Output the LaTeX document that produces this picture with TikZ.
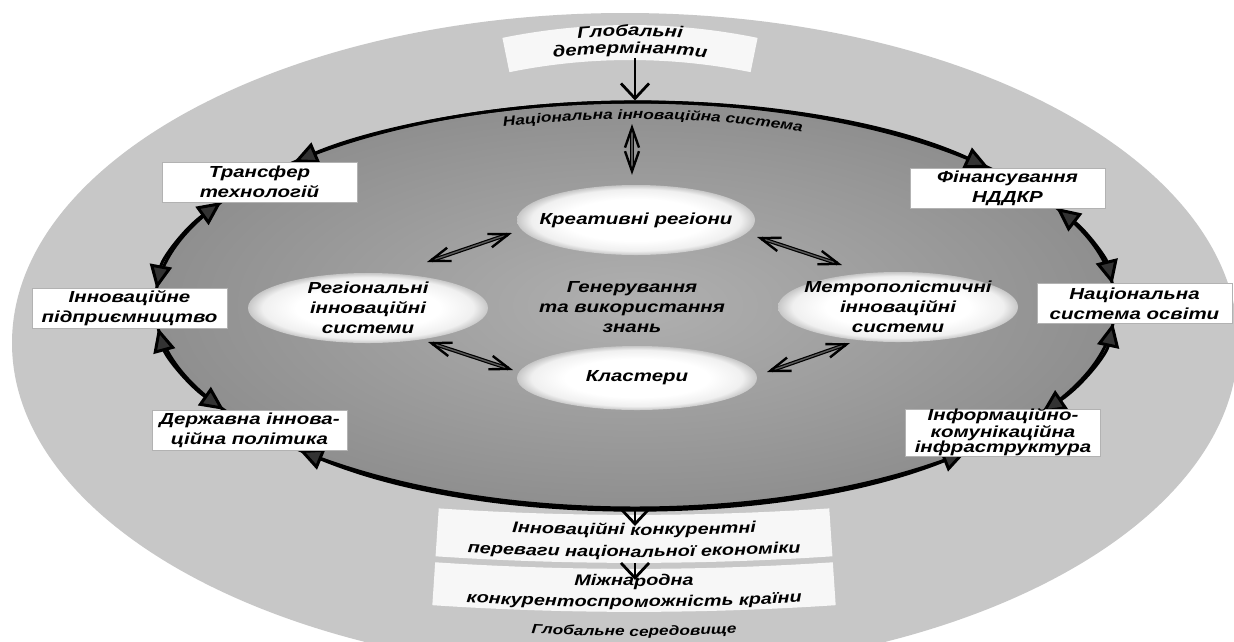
\documentclass[tikz,border=0pt]{standalone}
\usepackage{fontspec}
\setmainfont{Liberation Sans}[FakeStretch=1.28]
\usetikzlibrary{shapes.geometric,arrows.meta,decorations.text}
\newcommand{\dfbig}{\fontsize{16}{20}\selectfont\bfseries\itshape}
\newcommand{\dfband}{\fontsize{15.5}{16}\selectfont\bfseries\itshape}
\newcommand{\dfsmall}{\fontsize{13.5}{14}\selectfont\bfseries\itshape}
\newcommand{\dftight}{\fontsize{16}{13}\selectfont\bfseries\itshape}
\pgfdeclareradialshading{ovalsh}{\pgfpoint{0bp}{0bp}}{color(0bp)=(white); color(15bp)=(white); color(22bp)=(black!6); color(25bp)=(black!22); color(50bp)=(black!22)}
\begin{document}
\begin{tikzpicture}[x=1pt,y=-1pt,
  tri/.tip={Triangle[length=24pt,width=22pt,fill=black!80]},
  ring/.style={draw=black, line width=3pt, tri-tri},
  boxnode/.style={draw=black!30, line width=0.5pt, fill=white, minimum width=195pt, minimum height=40pt, inner sep=0pt, align=center, font=\dfbig},
  ovl/.style={ellipse, shading=ovalsh, minimum width=240pt, minimum height=70pt, inner sep=0pt},
  txt/.style={align=center, font=\dfbig, inner sep=0pt},
  sb/.tip={Straight Barb[length=20pt,width=14pt,line width=2.4pt]},
  dblarr/.style={line width=1.2pt, double=black!65, double distance=1.4pt, sb-sb},
  downarr/.style={line width=2.8pt, -{Straight Barb[length=15pt,width=28pt,line width=2.8pt]}},
  band/.style={fill=black!3},
  curved/.style={decorate, decoration={text along path, text align=center, text={#1}}}
]
\fill[white] (0,0) rectangle (1234,641);
\useasboundingbox (0,0) rectangle (1234,641);

% outer ellipse: global environment
\node[ellipse, fill=black!22, minimum width=1226pt, minimum height=660pt, inner sep=0pt] (glob) at (625,343) {};

% top band
\coordinate (O1) at (630,665);
\fill[band] ([shift={(78.5:640pt)}]O1) arc[start angle=78.5,end angle=101.5,radius=640pt]
  -- ([shift={(101.5:605pt)}]O1) arc[start angle=101.5,end angle=78.5,radius=605pt] -- cycle;
\path[curved={|\dfbig|Глобальні}] ([shift={(110:629pt)}]O1) arc[start angle=110,end angle=70,radius=629pt];
\path[curved={|\dfbig|детермінанти}] ([shift={(110:612pt)}]O1) arc[start angle=110,end angle=70,radius=612pt];

% bottom bands
\coordinate (O2) at (634,-2432);
\fill[band] ([shift={(266.2:2947pt)}]O2) arc[start angle=266.2,end angle=273.8,radius=2947pt]
  -- ([shift={(273.8:2995pt)}]O2) arc[start angle=273.8,end angle=266.2,radius=2995pt] -- cycle;
\fill[band] ([shift={(266.2:3001pt)}]O2) arc[start angle=266.2,end angle=273.8,radius=3001pt]
  -- ([shift={(273.8:3044pt)}]O2) arc[start angle=273.8,end angle=266.2,radius=3044pt] -- cycle;

% inner ellipse: national innovation system
\node[ellipse, draw=black, line width=3pt, inner color=black!31, outer color=black!44, minimum width=960pt, minimum height=406pt, inner sep=0pt] (nis) at (635,305) {};
\coordinate (C) at (635,305);

% ring arcs between boxes
\coordinate (r1) at ([shift={(42.5:480pt and 203pt)}]C);
\coordinate (r2) at ([shift={(149.5:480pt and 203pt)}]C);
\coordinate (r3) at ([shift={(186.5:480pt and 203pt)}]C);
\coordinate (r4) at ([shift={(225.6:480pt and 203pt)}]C);
\coordinate (r5) at ([shift={(-32.1:480pt and 203pt)}]C);
\coordinate (r6) at ([shift={(5.9:480pt and 203pt)}]C);
\draw[ring] (r1) arc[start angle=42.5,end angle=135.3,x radius=480pt,y radius=203pt];
\draw[ring] (r2) arc[start angle=149.5,end angle=175.5,x radius=480pt,y radius=203pt];
\draw[ring] (r3) arc[start angle=186.5,end angle=211.1,x radius=480pt,y radius=203pt];
\draw[ring] (r4) arc[start angle=225.6,end angle=313.6,x radius=480pt,y radius=203pt];
\draw[ring] (r5) arc[start angle=-32.1,end angle=-5.1,x radius=480pt,y radius=203pt];
\draw[ring] (r6) arc[start angle=5.9,end angle=28.6,x radius=480pt,y radius=203pt];

\path[curved={|\dfsmall|Національна інноваційна система}] ([shift={(118:460pt and 186pt)}]C) arc[start angle=118,end angle=57,x radius=460pt,y radius=186pt];

% boxes
\node[boxnode] (tt) at (259.5,182) {Трансфер\\технологій};
\node[boxnode] (ip) at (129.5,308.5) {Інноваційне\\підприємництво};
\node[boxnode] (dp) at (249.5,430) {Державна іннова-\\ційна політика};
\node[boxnode] (fn) at (1007.5,188) {Фінансування\\НДДКР};
\node[boxnode] (ns) at (1134.5,303.5) {Національна\\система освіти};
\node[boxnode, font=\dftight] (ik) at (1003,432.5) {Інформаційно-\\комунікаційна\\інфраструктура};

% inner ellipses
\node[ovl, minimum width=238pt] (kre) at (636,220) {};
\node[txt] (kret) at (kre.center) {Креативні регіони};
\node[ovl] (reg) at (368,308) {};
\node[txt] (regt) at (reg.center) {Регіональні\\інноваційні\\системи};
\node[ovl] (met) at (898,307) {};
\node[txt] (mett) at (met.center) {Метрополістичні\\інноваційні\\системи};
\node[ovl, minimum height=64pt] (kla) at (637,378) {};
\node[txt] (klat) at (kla.center) {Кластери};
\node[txt] (gen) at (632,307) {Генерування\\та використання\\знань};

% arrows between ellipses
\draw[dblarr] ([shift={(59,-46)}]reg.center) -- ([shift={(-124,13)}]kre.center);
\draw[dblarr] ([shift={(121,17)}]kre.center) -- ([shift={(-56,-42)}]met.center);
\draw[dblarr] ([shift={(60,34)}]reg.center) -- ([shift={(-124,-8)}]kla.center);
\draw[dblarr] ([shift={(-48,36)}]met.center) -- ([shift={(130,-6)}]kla.center);
\coordinate (nisl) at (632,124);
\draw[dblarr] (nisl) -- ([shift={(-4,-10)}]kre.north);

% vertical arrows
\coordinate (gdb) at (635,58);
\draw[downarr] (gdb) -- (nis.north);
\coordinate (b1t) at (635,526);
\draw[downarr] (nis.south) -- (b1t);
\coordinate (b2s) at (635,563);
\coordinate (b2t) at (635,580);
\draw[downarr] (b2s) -- (b2t);

% bottom texts
\coordinate (O3a) at (634,-2465);
\coordinate (O3b) at (634,-2443);
\coordinate (O3c) at (634,-2414);
\coordinate (O3d) at (634,-2393);
\coordinate (O3e) at (634,-1164);
\path[curved={|\dfband|Інноваційні конкурентні}] ([shift={(264:3000pt)}]O3a) arc[start angle=264,end angle=276,radius=3000pt];
\path[curved={|\dfband|переваги національної економіки}] ([shift={(264:3000pt)}]O3b) arc[start angle=264,end angle=276,radius=3000pt];
\path[curved={|\dfband|Міжнародна}] ([shift={(264:3000pt)}]O3c) arc[start angle=264,end angle=276,radius=3000pt];
\path[curved={|\dfband|конкурентоспроможність країни}] ([shift={(264:3000pt)}]O3d) arc[start angle=264,end angle=276,radius=3000pt];
\path[curved={|\dfsmall|Глобальне середовище}] ([shift={(262:1800pt)}]O3e) arc[start angle=262,end angle=278,radius=1800pt];
\end{tikzpicture}
\end{document}
